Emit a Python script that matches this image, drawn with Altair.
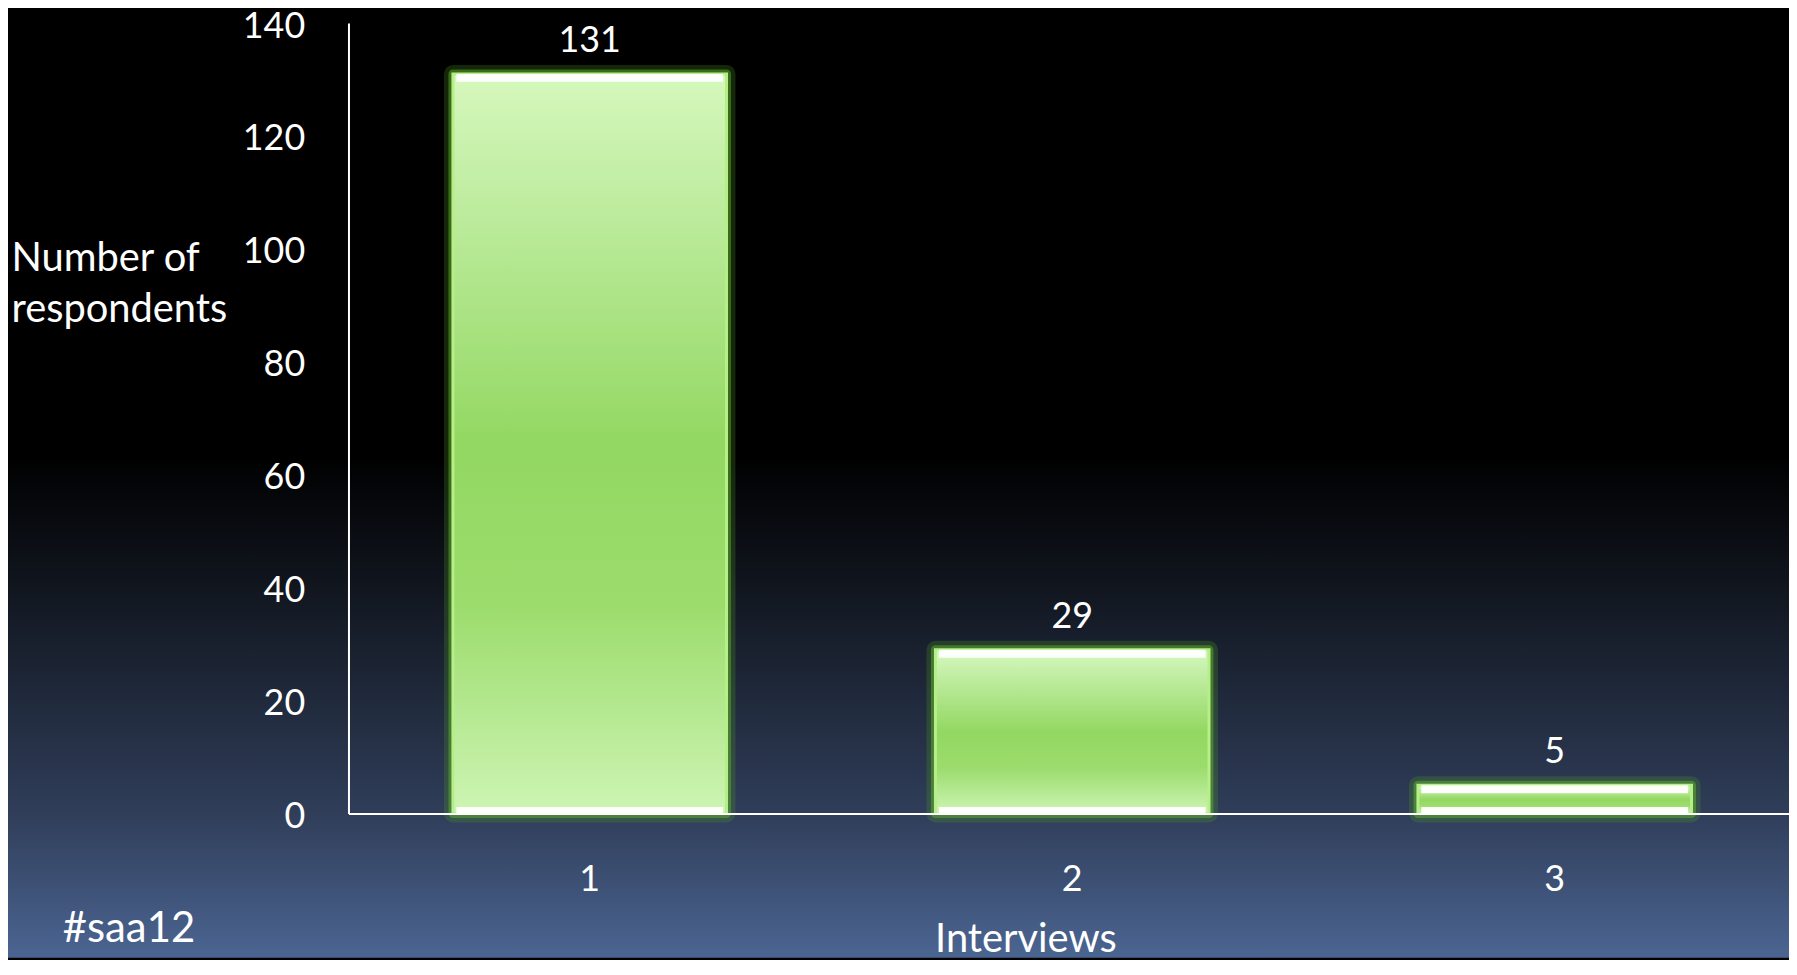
import altair as alt
import pandas as pd

# ---- data ----
interviews = ["1", "2", "3"]
respondents = [131, 29, 5]
y_ticks = [0, 20, 40, 60, 80, 100, 120, 140]
y_title = ["Number of", "respondents"]
x_title = "Interviews"
hashtag = "#saa12"

df = pd.DataFrame({"Interviews": interviews, "Respondents": respondents})

W = 1454
H = 794
FONT = "Lato"

bg_grad = alt.LinearGradient(
    gradient="linear", x1=0, x2=0, y1=0, y2=1,
    stops=[
        alt.GradientStop(offset=0.0, color="#000000"),
        alt.GradientStop(offset=0.47, color="#000000"),
        alt.GradientStop(offset=0.61, color="#11161f"),
        alt.GradientStop(offset=0.85, color="#303e5a"),
        alt.GradientStop(offset=1.0, color="#4b6592"),
    ],
)

bar_grad = alt.LinearGradient(
    gradient="linear", x1=0, x2=0, y1=0, y2=1,
    stops=[
        alt.GradientStop(offset=0.0, color="#d6f8bc"),
        alt.GradientStop(offset=0.12, color="#c6f0aa"),
        alt.GradientStop(offset=0.5, color="#93d862"),
        alt.GradientStop(offset=0.72, color="#9cdc6d"),
        alt.GradientStop(offset=1.0, color="#cdf5b4"),
    ],
)

background = alt.Chart(alt.Data(values=[{"a": 1}])).mark_rect(
    color=bg_grad
).encode(
    x=alt.value(-342), x2=alt.value(W), y=alt.value(-13), y2=alt.value(H + 145)
)

xenc = alt.X(
    "Interviews:N",
    sort=interviews,
    scale=alt.Scale(paddingInner=0.433, paddingOuter=0.2165),
    axis=alt.Axis(
        labelAngle=0, labelFontSize=36, labelColor="white", labelFont=FONT,
        labelBaseline="middle", labelPadding=66, ticks=False,
        domainColor="white", domainWidth=2, grid=False, zindex=2,
        title=x_title, titleFont=FONT, titleFontSize=40, titleFontWeight="normal",
        titleColor="white", titleX=680, titleY=127, titleAlign="center",
        titleBaseline="middle",
    ),
)
yenc = alt.Y(
    "Respondents:Q",
    scale=alt.Scale(domain=[0, 140], nice=False),
    axis=alt.Axis(
        values=y_ticks, labelFontSize=36, labelColor="white", labelFont=FONT,
        labelPadding=44, labelOffset=3, ticks=False, domainColor="white",
        domainWidth=2, grid=False, zindex=2,
        title=y_title, titleAngle=0, titleAlign="left", titleBaseline="middle",
        titleX=-339, titleY=237, titleLineHeight=51, titleFont=FONT,
        titleFontSize=40, titleFontWeight="normal", titleColor="white",
    ),
)

base = alt.Chart(df).encode(x=xenc, y=yenc)

glow1 = base.mark_bar(
    fillOpacity=0, stroke="#4f9a22", strokeWidth=18, strokeOpacity=0.25, strokeJoin="round"
)
glow2 = base.mark_bar(
    fillOpacity=0, stroke="#5fb02c", strokeWidth=9, strokeOpacity=0.5, strokeJoin="round"
)
bars = base.mark_bar(fill=bar_grad, stroke="#b6ef88", strokeWidth=3)

top_hl = base.mark_tick(
    color="white", thickness=8, size=268, opacity=0.95, yOffset=4
)
bottom_hl = alt.Chart(df).mark_tick(
    color="white", thickness=7, size=268, opacity=0.95, yOffset=-3
).encode(x=alt.X("Interviews:N", sort=interviews), y=alt.datum(0))

labels = base.mark_text(
    dy=-22, baseline="alphabetic", fontSize=36, color="white", font=FONT
).encode(text="Respondents:Q")

tag = alt.Chart(alt.Data(values=[{"t": hashtag}])).mark_text(
    align="left", baseline="middle", fontSize=42, color="white", font=FONT
).encode(x=alt.value(-287), y=alt.value(910), text="t:N")

chart = alt.layer(
    background, glow1, glow2, bars, top_hl, bottom_hl, labels, tag
).properties(
    width=W, height=H,
    autosize=alt.AutoSizeParams(type="none"),
    padding={"left": 342, "top": 13, "right": -7, "bottom": 145},
    background="#000000",
).configure_view(strokeWidth=0)

chart.save("out.html", embed_options={"renderer": "svg", "actions": False})
